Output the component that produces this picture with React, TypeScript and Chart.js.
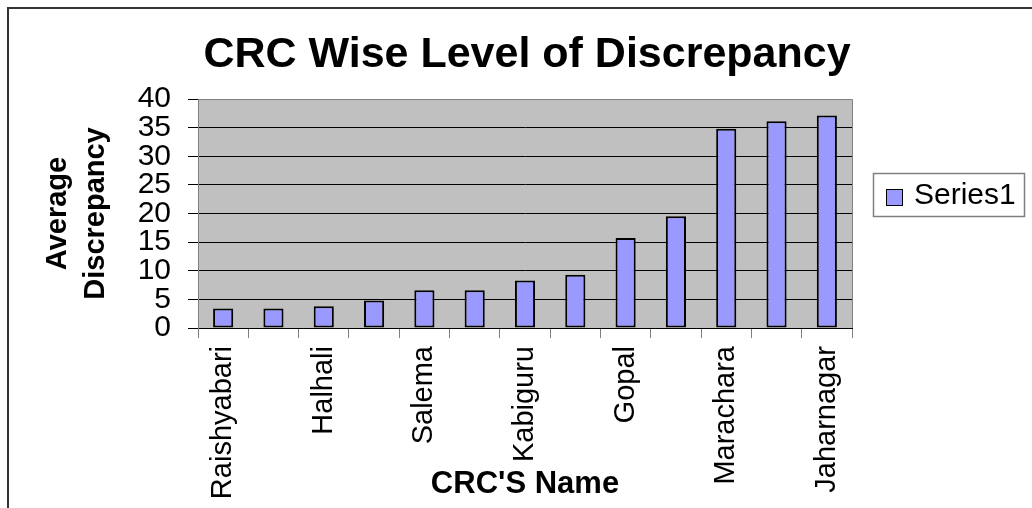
import { useEffect, useRef } from 'react';
import { Chart, registerables } from 'chart.js';

Chart.register(...registerables);

const categories = ['Raishyabari', '', 'Halhali', '', 'Salema', '', 'Kabiguru', '', 'Gopal', '', 'Marachara', '', 'Jaharnagar'];
const seriesValues = [3.4, 3.4, 3.8, 4.8, 6.6, 6.6, 8.3, 9.3, 15.7, 19.5, 34.8, 36.1, 37.1];
const seriesName = 'Series1';
const yMin = 0;
const yMax = 40;
const yStep = 5;
const chartTitle = 'CRC Wise Level of Discrepancy';
const xAxisTitle = "CRC'S Name";
const yAxisTitle = ['Average', 'Discrepancy'];

const FONT = '"Liberation Sans", Arial, sans-serif';
const BAR_FILL = '#9999FF';
const PLOT_BG = '#C0C0C0';

const decorPlugin = {
  id: 'decor',
  beforeDraw(chart: any) {
    const { ctx, chartArea } = chart;
    ctx.save();
    ctx.fillStyle = '#ffffff';
    ctx.fillRect(0, 0, chart.width, chart.height);
    ctx.fillStyle = PLOT_BG;
    ctx.fillRect(chartArea.left, chartArea.top, chartArea.right - chartArea.left, chartArea.bottom - chartArea.top);
    ctx.restore();
  },
  afterDraw(chart: any) {
    const { ctx, chartArea } = chart;
    ctx.save();
    // plot area border (top and right)
    ctx.strokeStyle = '#808080';
    ctx.lineWidth = 1;
    ctx.beginPath();
    ctx.moveTo(chartArea.left, chartArea.top + 0.5);
    ctx.lineTo(chartArea.right + 0.5, chartArea.top + 0.5);
    ctx.lineTo(chartArea.right + 0.5, chartArea.bottom);
    ctx.stroke();

    // outer chart border
    ctx.strokeStyle = '#333333';
    ctx.lineWidth = 2;
    ctx.beginPath();
    ctx.moveTo(8, chart.height);
    ctx.lineTo(8, 8);
    ctx.lineTo(chart.width, 8);
    ctx.stroke();

    ctx.fillStyle = '#000000';
    // main title
    ctx.font = `bold 43px ${FONT}`;
    ctx.textAlign = 'center';
    ctx.textBaseline = 'alphabetic';
    ctx.fillText(chartTitle, 527, 67);

    // x axis title
    const cx = (chartArea.left + chartArea.right) / 2;
    ctx.font = `bold 31px ${FONT}`;
    ctx.fillText(xAxisTitle, cx, 493);

    // y axis title (rotated, two lines)
    const cy = (chartArea.top + chartArea.bottom) / 2;
    ctx.font = `bold 29px ${FONT}`;
    const baselines = [66, 104];
    yAxisTitle.forEach((line, i) => {
      ctx.save();
      ctx.translate(baselines[i], cy);
      ctx.rotate(-Math.PI / 2);
      ctx.fillText(line, 0, 0);
      ctx.restore();
    });

    // legend
    const ds = chart.data.datasets[0];
    ctx.strokeStyle = '#808080';
    ctx.lineWidth = 1.5;
    ctx.fillStyle = '#ffffff';
    ctx.fillRect(873, 173, 152, 43);
    ctx.strokeRect(873.5, 173.5, 151, 43);
    ctx.fillStyle = ds.backgroundColor;
    ctx.fillRect(886, 189, 17, 17);
    ctx.strokeStyle = '#000000';
    ctx.lineWidth = 1;
    ctx.strokeRect(886.5, 189.5, 16, 16);
    ctx.fillStyle = '#000000';
    ctx.font = `30px ${FONT}`;
    ctx.textAlign = 'left';
    ctx.textBaseline = 'middle';
    ctx.fillText(ds.label, 914, 196);
    ctx.restore();
  },
};

export default function App() {
  const ref = useRef<HTMLCanvasElement | null>(null);

  useEffect(() => {
    document.body.style.margin = '0';
    document.body.style.overflow = 'hidden';
    const canvas = ref.current;
    if (!canvas) return;
    const chart = new Chart(canvas, {
      type: 'bar',
      data: {
        labels: categories,
        datasets: [
          {
            label: seriesName,
            data: seriesValues,
            backgroundColor: BAR_FILL,
            borderColor: '#000000',
            borderWidth: 2,
            borderSkipped: false,
            barPercentage: 0.4,
            categoryPercentage: 1.0,
          },
        ],
      },
      options: {
        animation: false,
        responsive: false,
        devicePixelRatio: 1,
        layout: { padding: { left: 0, top: 99, right: 180, bottom: 0 } },
        plugins: {
          legend: { display: false },
          title: { display: false },
          tooltip: { enabled: false },
        },
        scales: {
          x: {
            offset: true,
            afterFit: (scale: any) => {
              scale.height = 180;
            },
            grid: {
              offset: true,
              drawOnChartArea: false,
              drawTicks: true,
              tickLength: 10,
              color: '#808080',
            },
            border: { display: true, color: '#000000', width: 1 },
            ticks: {
              autoSkip: false,
              minRotation: 90,
              maxRotation: 90,
              padding: 8,
              color: '#000000',
              font: { family: FONT, size: 29 },
            },
          },
          y: {
            min: yMin,
            max: yMax,
            afterFit: (scale: any) => {
              scale.width = 198;
            },
            grid: {
              color: (c: any) => (c.tick && c.tick.value === yMax ? '#808080' : '#000000'),
              tickColor: '#000000',
              lineWidth: 1,
              tickLength: 10,
            },
            border: { display: true, color: '#808080', width: 1 },
            ticks: {
              stepSize: yStep,
              autoSkip: false,
              padding: 17,
              color: '#000000',
              font: { family: FONT, size: 30 },
            },
          },
        },
      },
      plugins: [decorPlugin],
    });
    return () => chart.destroy();
  }, []);

  return <canvas ref={ref} width={1032} height={508} style={{ display: 'block' }} />;
}
